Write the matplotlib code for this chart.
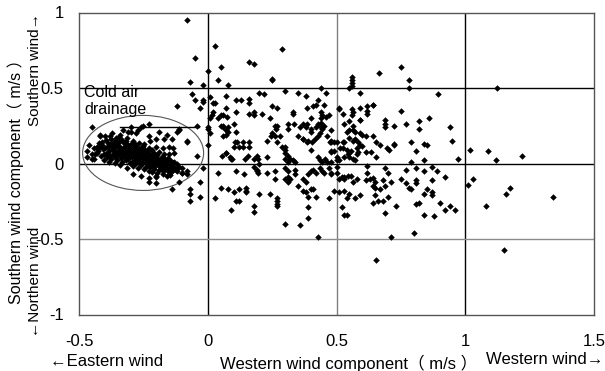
import numpy as np
import matplotlib
matplotlib.use("Agg")
import matplotlib.pyplot as plt
from matplotlib.patches import Ellipse

plt.rcParams['font.family'] = ['Liberation Sans', 'Noto Sans CJK JP', 'DejaVu Sans']
plt.rcParams['axes.unicode_minus'] = False

# === Data ===
# scattered points: (western component, southern component) in m/s
upper_pts = [
    (-0.08, 0.95), (-0.05, 0.70), (0.00, 0.61), (-0.07, 0.54), (-0.02, 0.52), (-0.06, 0.46),
    (-0.05, 0.42), (-0.02, 0.42), (-0.03, 0.37), (-0.12, 0.38),
    (0.03, 0.78), (0.29, 0.76), (0.05, 0.64), (0.16, 0.675), (0.18, 0.66), (0.04, 0.55),
    (0.25, 0.55), (0.25, 0.56), (0.08, 0.52), (0.01, 0.44), (0.07, 0.45), (0.03, 0.40),
    (0.11, 0.42), (0.13, 0.42), (0.16, 0.43), (0.16, 0.40), (0.20, 0.47), (0.22, 0.46),
    (0.30, 0.48), (0.35, 0.47), (0.38, 0.45), (0.44, 0.50), (0.46, 0.47), (0.43, 0.42),
    (0.56, 0.57), (0.56, 0.55), (0.56, 0.53), (0.56, 0.51), (0.55, 0.50), (0.665, 0.60),
    (0.75, 0.64), (0.78, 0.55), (0.78, 0.50), (0.59, 0.47), (0.895, 0.46), (0.64, 0.39),
    (1.125, 0.50),
]
right_pts = [
    (0.75, 0.35), (0.77, 0.26), (0.82, 0.28), (0.82, 0.23), (0.86, 0.30), (0.94, 0.24),
    (0.95, 0.15), (0.79, 0.14), (0.84, 0.13), (0.85, 0.12), (0.81, 0.08), (0.97, 0.03),
    (1.02, 0.09), (1.09, 0.08), (1.12, 0.02), (1.22, 0.05), (0.79, 0.01), (0.84, 0.02),
    (0.77, -0.04), (0.81, -0.03), (0.84, -0.05), (0.87, -0.02), (0.89, -0.05), (0.92, -0.09),
    (0.75, -0.10), (0.77, -0.13), (0.81, -0.11), (0.81, -0.13), (0.78, -0.16), (0.79, -0.17),
    (0.87, -0.11), (0.85, -0.17), (0.84, -0.20), (0.87, -0.19), (0.87, -0.21), (1.01, -0.14),
    (1.03, -0.10), (1.175, -0.16), (1.16, -0.20), (1.34, -0.22), (0.81, -0.27), (0.82, -0.26),
    (0.90, -0.26), (0.94, -0.28), (0.92, -0.31), (0.96, -0.31), (0.84, -0.34), (0.88, -0.35),
    (1.08, -0.28), (0.80, -0.46), (1.15, -0.57),
]
near_zero_pts = [
    (-0.04, 0.25), (0.00, 0.24), (-0.11, 0.22), (-0.08, 0.15), (-0.08, 0.14), (0.00, 0.12),
    (-0.04, 0.05), (-0.02, -0.03), (-0.10, -0.06), (-0.08, -0.05), (-0.08, -0.07), (-0.11, -0.12),
    (-0.03, -0.12), (-0.07, -0.17), (-0.07, -0.20), (-0.07, -0.25), (-0.03, -0.22), (-0.14, -0.17),
]
lower_pts = [
    (0.03, -0.23), (0.05, -0.16), (0.08, -0.17), (0.10, -0.19), (0.12, -0.17), (0.15, -0.16),
    (0.15, -0.18), (0.15, -0.19), (0.11, -0.25), (0.12, -0.25), (0.09, -0.31), (0.18, -0.28),
    (0.18, -0.32), (0.20, -0.20), (0.24, -0.20), (0.27, -0.23), (0.27, -0.25), (0.27, -0.27),
    (0.27, -0.28), (0.30, -0.40), (0.36, -0.41), (0.35, -0.15), (0.37, -0.18), (0.38, -0.19),
    (0.40, -0.17), (0.41, -0.17), (0.39, -0.22), (0.42, -0.22), (0.39, -0.29), (0.39, -0.36),
    (0.43, -0.49), (0.47, -0.23), (0.49, -0.18), (0.51, -0.19), (0.53, -0.18), (0.55, -0.20),
    (0.54, -0.23), (0.57, -0.23), (0.59, -0.21), (0.52, -0.29), (0.53, -0.34), (0.54, -0.34),
    (0.64, -0.15), (0.65, -0.16), (0.67, -0.17), (0.69, -0.15), (0.65, -0.21), (0.66, -0.25),
    (0.68, -0.25), (0.70, -0.22), (0.64, -0.26), (0.73, -0.28), (0.69, -0.33), (0.71, -0.49),
    (0.655, -0.64),
]
middle_pts = [
    (0.07, 0.37), (0.015, 0.32), (0.04, 0.30), (0.05, 0.32), (0.06, 0.32), (0.075, 0.31),
    (0.01, 0.30), (0.11, 0.34), (0.16, 0.33), (0.18, 0.34), (0.18, 0.32), (0.21, 0.33),
    (0.25, 0.38), (0.27, 0.37), (0.33, 0.34), (0.33, 0.33), (0.385, 0.37), (0.41, 0.38),
    (0.45, 0.39), (0.44, 0.34), (0.47, 0.32), (0.44, 0.30),
    (0.00, 0.23), (0.01, 0.20), (0.05, 0.25), (0.06, 0.25), (0.08, 0.21), (0.07, 0.19),
    (0.10, 0.26), (0.11, 0.21), (0.105, 0.14), (0.115, 0.14), (0.10, 0.11), (0.12, 0.11),
    (0.135, 0.14), (0.135, 0.11), (0.16, 0.14), (0.16, 0.11), (0.07, 0.07), (0.085, 0.04),
    (0.095, 0.03), (0.145, 0.03), (0.155, 0.05), (0.19, 0.05), (0.18, 0.03), (0.195, 0.03),
    (0.23, 0.04), (0.20, 0.00),
    (0.26, 0.25), (0.265, 0.23), (0.27, 0.25), (0.25, 0.20), (0.245, 0.185), (0.23, 0.15),
    (0.26, 0.18), (0.28, 0.18), (0.27, 0.14), (0.29, 0.11), (0.30, 0.11), (0.30, 0.09),
    (0.30, 0.07), (0.31, 0.05), (0.30, 0.03), (0.31, 0.01), (0.32, 0.03), (0.33, 0.02),
    (0.34, 0.01),
    (0.31, 0.26), (0.31, 0.23), (0.335, 0.26), (0.37, 0.26), (0.385, 0.26), (0.40, 0.23),
    (0.43, 0.26), (0.44, 0.27), (0.45, 0.25), (0.35, 0.18), (0.37, 0.165), (0.37, 0.16),
    (0.385, 0.14), (0.39, 0.15), (0.405, 0.14), (0.415, 0.165), (0.435, 0.205), (0.43, 0.185),
    (0.445, 0.23), (0.465, 0.18), (0.475, 0.14), (0.48, 0.14), (0.40, 0.09), (0.48, 0.08),
    (0.43, 0.04), (0.435, 0.02), (0.445, 0.01), (0.455, 0.03), (0.465, 0.01), (0.48, 0.01),
    (0.04, -0.06), (0.11, -0.05), (0.14, -0.07), (0.18, -0.02), (0.19, -0.04), (0.195, -0.06),
    (0.19, -0.05), (0.23, -0.06), (0.26, -0.05), (0.26, -0.105), (0.30, -0.03), (0.31, -0.05),
    (0.31, -0.09), (0.30, -0.10), (0.32, -0.105), (0.31, -0.12), (0.34, -0.04), (0.34, -0.07),
    (0.37, -0.105), (0.38, -0.12), (0.39, -0.07), (0.40, -0.05), (0.41, -0.04), (0.42, -0.06),
    (0.435, -0.03), (0.445, -0.05), (0.45, -0.06), (0.47, -0.03), (0.48, -0.06),
    (-0.02, 0.41), (0.02, 0.40), (0.02, 0.34), (0.06, 0.245), (0.07, 0.225), (0.08, 0.245),
    (0.06, 0.18), (0.055, 0.05), (0.07, 0.07), (0.09, 0.03), (0.24, 0.30), (0.42, 0.39),
    (0.445, 0.32), (0.46, 0.31), (0.40, 0.30), (0.36, 0.245), (0.38, 0.245), (0.40, 0.21),
    (0.42, 0.245), (0.44, 0.245),
    (0.51, 0.37), (0.525, 0.325), (0.56, 0.36), (0.56, 0.32), (0.59, 0.37), (0.59, 0.29),
    (0.51, 0.36), (0.565, 0.34), (0.62, 0.38), (0.62, 0.35), (0.62, 0.33), (0.64, 0.39),
    (0.53, 0.26), (0.55, 0.28), (0.565, 0.25), (0.59, 0.285), (0.54, 0.21), (0.55, 0.225),
    (0.565, 0.22), (0.57, 0.21), (0.59, 0.205), (0.60, 0.19), (0.615, 0.185), (0.64, 0.18),
    (0.55, 0.17), (0.57, 0.165), (0.565, 0.15), (0.48, 0.225), (0.48, 0.15), (0.49, 0.14),
    (0.50, 0.14), (0.525, 0.14), (0.53, 0.14), (0.585, 0.14), (0.59, 0.12), (0.60, 0.115),
    (0.655, 0.14), (0.67, 0.125), (0.48, 0.075), (0.49, 0.08), (0.515, 0.105), (0.525, 0.10),
    (0.54, 0.09), (0.555, 0.08), (0.545, 0.06), (0.58, 0.105), (0.585, 0.075), (0.58, 0.065),
    (0.615, 0.075), (0.635, 0.075), (0.50, 0.045), (0.50, 0.02), (0.51, 0.025), (0.53, 0.045),
    (0.55, 0.04), (0.565, 0.03), (0.57, 0.02), (0.655, 0.045), (0.69, 0.285), (0.69, 0.245),
    (0.69, 0.26), (0.725, 0.25), (0.695, 0.105), (0.705, 0.09), (0.725, 0.13), (0.725, 0.12),
    (0.48, -0.07), (0.50, -0.06), (0.52, -0.09), (0.53, -0.09), (0.545, -0.08), (0.555, -0.08),
    (0.51, -0.105), (0.53, -0.105), (0.565, -0.12), (0.58, -0.105), (0.62, -0.015), (0.62, -0.06),
    (0.615, -0.11), (0.63, -0.10), (0.64, -0.095), (0.65, -0.125), (0.69, -0.03), (0.70, -0.06),
    (0.68, -0.11), (0.71, -0.125), (0.50, -0.02),
]
# cold air drainage cluster (weak easterly wind)
drainage_edge_pts = [
    (-0.46, 0.125), (-0.47, 0.08), (-0.45, 0.06), (-0.47, 0.04), (-0.45, 0.03), (-0.44, 0.03),
    (-0.42, 0.185), (-0.40, 0.18), (-0.44, 0.10), (-0.43, 0.10), (-0.43, 0.07), (-0.30, 0.24),
    (-0.30, 0.21), (-0.26, 0.24), (-0.23, 0.26), (-0.19, 0.21), (-0.12, 0.21), (-0.11, 0.23),
    (-0.23, 0.18), (-0.225, 0.15), (-0.20, 0.16), (-0.17, 0.165), (-0.20, 0.11), (-0.175, 0.10),
    (-0.15, 0.11), (-0.135, 0.10), (-0.13, 0.07), (-0.15, 0.06), (-0.175, 0.04), (-0.16, 0.02),
    (-0.135, 0.005), (-0.12, -0.005), (-0.11, -0.02), (-0.10, -0.03), (-0.12, -0.05), (-0.10, -0.06),
    (-0.29, -0.07), (-0.26, -0.085), (-0.23, -0.095), (-0.20, -0.08), (-0.20, -0.09), (-0.175, -0.07),
    (-0.16, -0.085), (-0.145, -0.075), (-0.23, -0.125), (-0.20, -0.13), (-0.45, 0.24), (-0.42, 0.19),
    (-0.38, 0.18), (-0.25, 0.25), (-0.37, 0.20), (-0.33, 0.22), (-0.28, 0.20), (-0.34, 0.19),
    (-0.31, 0.21), (-0.16, 0.19), (-0.14, 0.16), (-0.27, 0.22),
]
drainage_core_pts = [
    (-0.423, 0.138), (-0.418, 0.112), (-0.425, 0.083), (-0.415, 0.052), (-0.412, 0.124),
    (-0.407, 0.094), (-0.404, 0.063), (-0.409, 0.142), (-0.402, 0.021), (-0.396, 0.153),
    (-0.398, 0.101), (-0.393, 0.072), (-0.391, 0.044), (-0.388, 0.118), (-0.386, 0.107),
    (-0.383, 0.085), (-0.381, 0.052), (-0.379, 0.131), (-0.384, 0.012), (-0.376, 0.162),
    (-0.373, 0.121), (-0.371, 0.094), (-0.368, 0.061), (-0.374, 0.033), (-0.366, 0.145),
    (-0.364, 0.103), (-0.361, 0.076), (-0.359, 0.041), (-0.357, 0.128), (-0.362, 0.004),
    (-0.355, 0.151), (-0.352, 0.113), (-0.349, 0.082), (-0.347, 0.054), (-0.353, 0.023),
    (-0.345, 0.176), (-0.343, 0.118), (-0.341, 0.091), (-0.338, 0.063), (-0.336, 0.034),
    (-0.344, 0.142), (-0.339, -0.008), (-0.334, 0.157), (-0.331, 0.104), (-0.329, 0.071),
    (-0.327, 0.046), (-0.333, 0.012), (-0.325, 0.133), (-0.323, 0.109), (-0.321, 0.083),
    (-0.318, 0.052), (-0.316, 0.024), (-0.322, 0.139), (-0.314, -0.027), (-0.312, 0.167),
    (-0.309, 0.122), (-0.307, 0.094), (-0.305, 0.061), (-0.311, 0.033), (-0.303, 0.004),
    (-0.301, 0.097), (-0.298, 0.072), (-0.296, 0.043), (-0.294, 0.013), (-0.299, 0.128),
    (-0.292, -0.018), (-0.289, 0.148), (-0.287, 0.108), (-0.285, 0.081), (-0.283, 0.052),
    (-0.281, 0.026), (-0.286, -0.004), (-0.278, 0.117), (-0.276, 0.089), (-0.274, 0.063),
    (-0.272, 0.034), (-0.277, 0.006), (-0.271, -0.031), (-0.268, 0.138), (-0.266, 0.098),
    (-0.264, 0.071), (-0.262, 0.044), (-0.267, 0.017), (-0.259, -0.012), (-0.257, 0.112),
    (-0.255, 0.083), (-0.253, 0.056), (-0.251, 0.028), (-0.256, 0.001), (-0.249, -0.039),
    (-0.247, 0.094), (-0.245, 0.066), (-0.243, 0.037), (-0.241, 0.008), (-0.246, 0.127),
    (-0.238, -0.021), (-0.236, 0.079), (-0.234, 0.051), (-0.232, 0.022), (-0.237, -0.004),
    (-0.229, 0.104), (-0.227, -0.048), (-0.225, 0.064), (-0.223, 0.035), (-0.221, 0.006),
    (-0.226, -0.026), (-0.218, 0.088), (-0.216, -0.057), (-0.214, 0.047), (-0.212, 0.018),
    (-0.217, -0.011), (-0.209, 0.072), (-0.207, -0.039), (-0.205, 0.031), (-0.203, 0.003),
    (-0.208, -0.021), (-0.198, 0.057), (-0.196, -0.062), (-0.194, 0.014), (-0.192, -0.013),
    (-0.197, 0.036), (-0.188, -0.044), (-0.186, 0.026), (-0.184, -0.006), (-0.189, 0.078),
    (-0.181, -0.029), (-0.178, 0.042), (-0.176, 0.008), (-0.174, -0.052), (-0.179, -0.017),
    (-0.169, 0.023), (-0.167, -0.009), (-0.165, -0.037), (-0.171, 0.061), (-0.162, -0.022),
    (-0.158, 0.011), (-0.156, -0.047), (-0.154, 0.038), (-0.149, -0.006), (-0.147, -0.031),
    (-0.144, 0.019), (-0.141, -0.058), (-0.138, -0.014), (-0.135, -0.041), (-0.132, 0.008),
    (-0.128, -0.027), (-0.124, -0.046), (-0.365, 0.088), (-0.352, 0.068), (-0.337, 0.087),
    (-0.326, 0.061), (-0.313, 0.078), (-0.302, 0.051), (-0.291, 0.064), (-0.279, 0.041),
    (-0.263, 0.053), (-0.248, 0.043), (-0.233, 0.013), (-0.219, 0.026), (-0.204, 0.012),
    (-0.431, 0.107), (-0.436, 0.061), (-0.389, 0.139), (-0.358, 0.166), (-0.317, 0.151),
    (-0.284, 0.132), (-0.252, 0.114), (-0.232, 0.092), (-0.211, 0.058),
]

# ellipse around the cold air drainage cluster and its label line
ellipse_center = (-0.251, 0.07)
ellipse_size = (0.47, 0.497)
label_line_x = [-0.342, -0.035]
label_line_y = [0.245, 0.245]

x_ticks = [-0.5, 0, 0.5, 1, 1.5]
x_tick_labels = ['-0.5', '0', '0.5', '1', '1.5']
y_ticks = [-1, -0.5, 0, 0.5, 1]
y_tick_labels = ['-1', '-0.5', '0', '0.5', '1']

# === Figure ===
fig = plt.figure(figsize=(6.05, 3.71), dpi=100)
ax = fig.add_axes([79 / 605, 1 - 314.5 / 371, 515 / 605, 302 / 371])

# Excel-like gridlines
for v, c in [(0, 'black'), (0.5, '#808080'), (1, 'black')]:
    ax.axvline(v, color=c, lw=1.0, zorder=1)
for h, c in [(0.5, 'black'), (0, 'black'), (-0.5, '#8c8c8c')]:
    ax.axhline(h, color=c, lw=1.0, zorder=1)

all_pts = (upper_pts + right_pts + near_zero_pts + lower_pts + middle_pts
           + drainage_edge_pts + drainage_core_pts)
pts = np.array(all_pts)
ax.scatter(pts[:, 0], pts[:, 1], marker='D', s=11, color='black', linewidths=0, zorder=3)

ax.add_patch(Ellipse(ellipse_center, ellipse_size[0], ellipse_size[1],
                     fill=False, edgecolor='#555555', lw=0.8, zorder=2))
ax.plot(label_line_x, label_line_y, color='black', lw=1.0, zorder=2)
ax.text(-0.48, 0.52, 'Cold air\ndrainage', fontsize=11.5, ha='left', va='top',
        linespacing=1.15, zorder=4)

ax.set_xlim(-0.5, 1.5)
ax.set_ylim(-1, 1)
ax.set_xticks(x_ticks)
ax.set_xticklabels(x_tick_labels)
ax.set_yticks(y_ticks)
ax.set_yticklabels(y_tick_labels)
ax.tick_params(length=0, labelsize=12)
ax.tick_params(axis='x', pad=14)
ax.tick_params(axis='y', pad=11)
for s in ax.spines.values():
    s.set_color('#555555')
    s.set_linewidth(1.0)

# axis titles (positioned like the original)
fs = 12
fig.text(50 / 605, 1 - 362 / 371, '←Eastern wind', fontsize=fs, ha='left', va='center')
fig.text(349 / 605, 1 - 363 / 371, 'Western wind component（ m/s ）', fontsize=fs, ha='center', va='center')
fig.text(603 / 605, 1 - 359 / 371, 'Western wind→', fontsize=fs, ha='right', va='center')
fig.text(16 / 605, 1 - 178 / 371, 'Southern wind component（ m/s ）', fontsize=11.5,
         rotation=90, ha='center', va='center')
fig.text(35 / 605, 1 - 70 / 371, 'Southern wind→', fontsize=11, rotation=90, ha='center', va='center')
fig.text(35 / 605, 1 - 282 / 371, '←Northern wind', fontsize=11, rotation=90, ha='center', va='center')

fig.savefig('out.png', dpi=100)
